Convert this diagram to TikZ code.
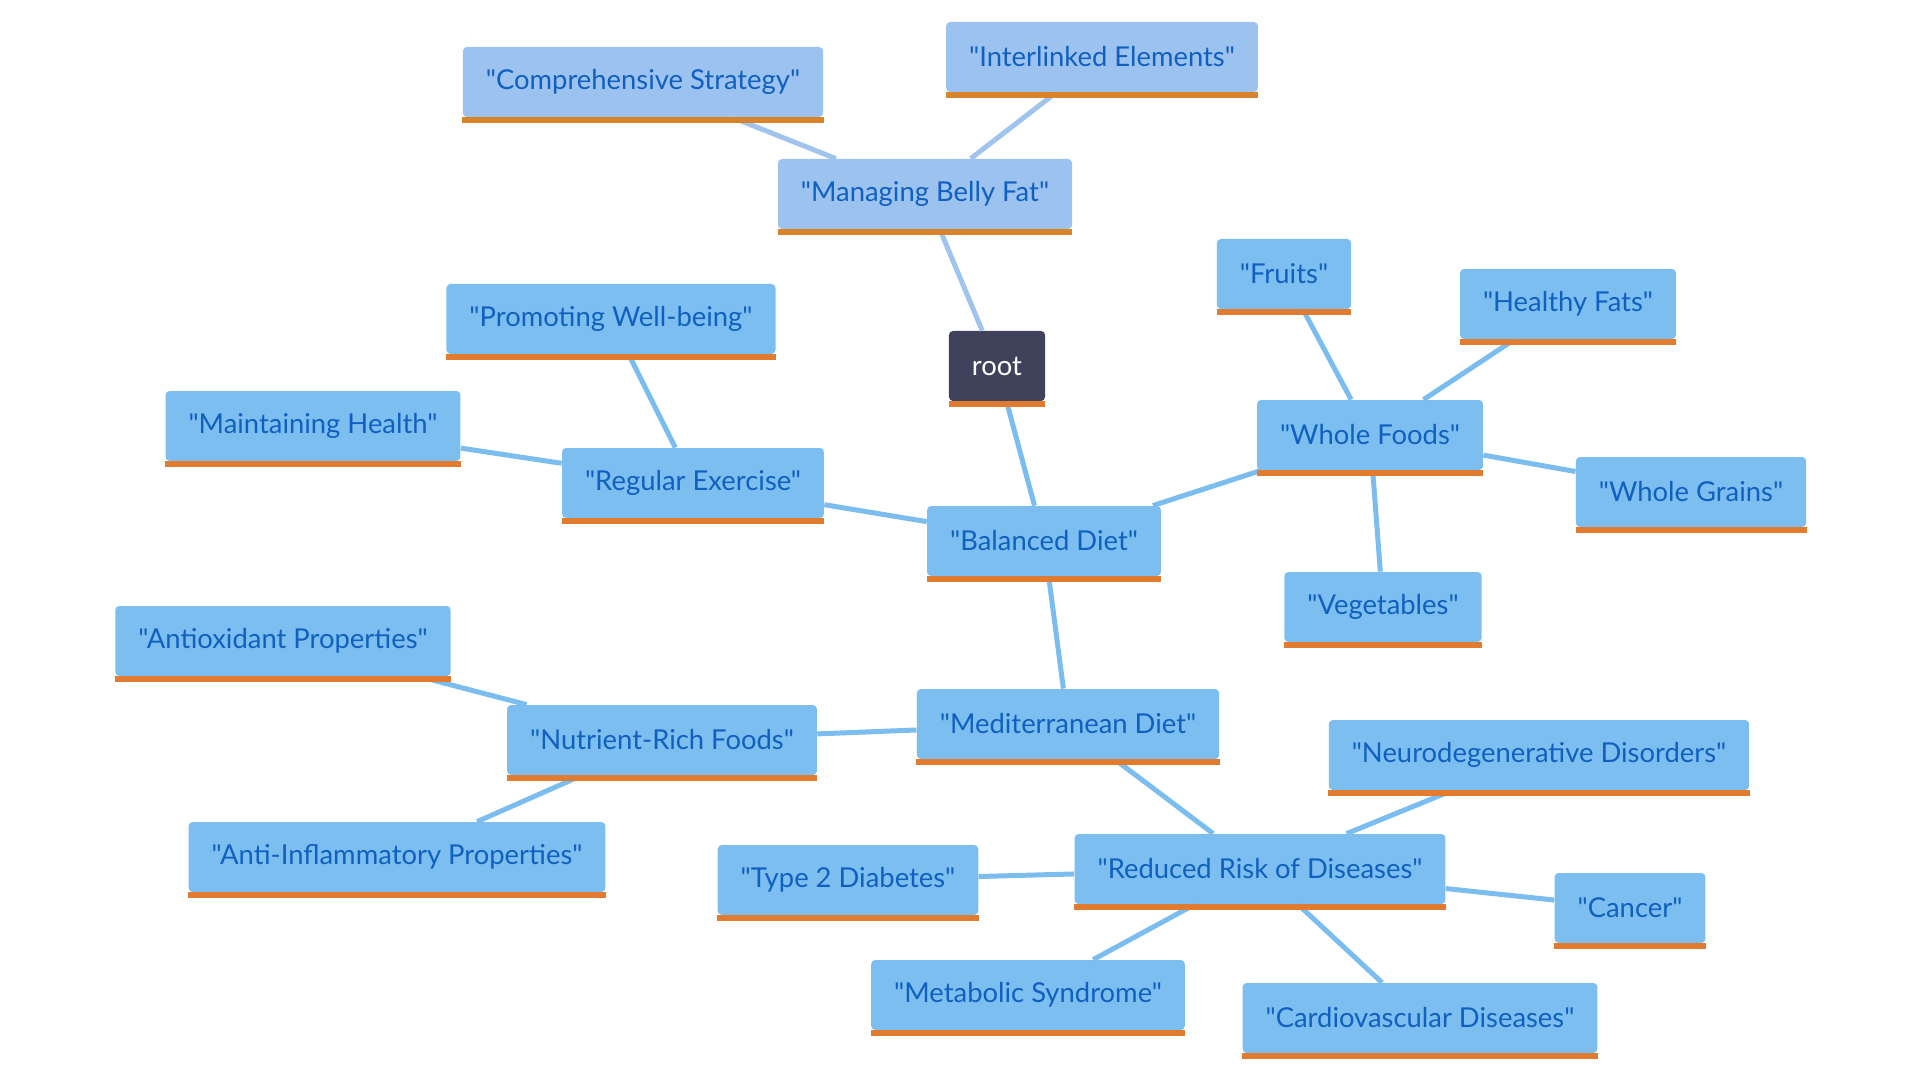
\documentclass[tikz,border=0pt]{standalone}
\usepackage{fontspec}
\setmainfont{Lato}[Ligatures=TeXOff]
\definecolor{boxblue}{HTML}{7CBEF0}
\definecolor{boxlight}{HTML}{9CC2F0}
\definecolor{textblue}{HTML}{1060C0}
\definecolor{barorange}{HTML}{E07B30}
\definecolor{barochre}{HTML}{D9842B}
\definecolor{rootgray}{HTML}{3F425A}
\definecolor{linkblue}{HTML}{7BBDEE}
\definecolor{linklight}{HTML}{A0C4EE}
\begin{document}
\begin{tikzpicture}[x=0.5pt, y=-0.5pt,
  topic/.style={rectangle, rounded corners=2pt, fill=boxblue, text=textblue,
    minimum height=35pt, inner xsep=11.5pt, font=\fontsize{13.7}{15}\selectfont},
  lighttopic/.style={topic, fill=boxlight},
  link/.style={line width=2.5pt, draw=linkblue},
  lightlink/.style={link, draw=linklight}]
\useasboundingbox (0,0) rectangle (1920,1080);
% centre topic
\node [topic, fill=rootgray, text=white] (root) at (997,366) {root};
\node [topic] (bal) at (1044,541) {"Balanced Diet"};
% belly fat branch
\node [lighttopic] (mbf) at (925,194) {"Managing Belly Fat"};
\node [lighttopic] (cs) at (643,82) {"Comprehensive Strategy"};
\node [lighttopic] (ie) at (1102,57) {"Interlinked Elements"};
% exercise branch
\node [topic] (re) at (693,483) {"Regular Exercise"};
\node [topic] (pw) at (611,319) {"Promoting Well-being"};
\node [topic] (mh) at (313,426) {"Maintaining Health"};
% whole foods branch
\node [topic] (wf) at (1370,435) {"Whole Foods"};
\node [topic] (fr) at (1284,274) {"Fruits"};
\node [topic] (hf) at (1568,304) {"Healthy Fats"};
\node [topic] (wg) at (1691,492) {"Whole Grains"};
\node [topic] (veg) at (1383,607) {"Vegetables"};
% mediterranean branch
\node [topic] (med) at (1068,724) {"Mediterranean Diet"};
\node [topic] (nrf) at (662,740) {"Nutrient-Rich Foods"};
\node [topic] (ap) at (283,641) {"Antioxidant Properties"};
\node [topic] (aip) at (397,857) {"Anti-Inflammatory Properties"};
\node [topic] (rrd) at (1260,869) {"Reduced Risk of Diseases"};
\node [topic] (nd) at (1539,755) {"Neurodegenerative Disorders"};
\node [topic] (t2d) at (848,880) {"Type 2 Diabetes"};
\node [topic] (can) at (1630,908) {"Cancer"};
\node [topic] (ms) at (1028,995) {"Metabolic Syndrome"};
\node [topic] (cvd) at (1420,1018) {"Cardiovascular Diseases"};
% links
\draw [lightlink] (root) -- (mbf);
\draw [lightlink] (mbf) -- (cs);
\draw [lightlink] (mbf) -- (ie);
\draw [link] (root) -- (bal);
\draw [link] (bal) -- (re);
\draw [link] (re) -- (pw);
\draw [link] (re) -- (mh);
\draw [link] (bal) -- (wf);
\draw [link] (wf) -- (fr);
\draw [link] (wf) -- (hf);
\draw [link] (wf) -- (wg);
\draw [link] (wf) -- (veg);
\draw [link] (bal) -- (med);
\draw [link] (med) -- (nrf);
\draw [link] (nrf) -- (ap);
\draw [link] (nrf) -- (aip);
\draw [link] (med) -- (rrd);
\draw [link] (rrd) -- (nd);
\draw [link] (rrd) -- (t2d);
\draw [link] (rrd) -- (can);
\draw [link] (rrd) -- (ms);
\draw [link] (rrd) -- (cvd);
% orange bars under the topics
\foreach \n in {root, bal, re, pw, mh, wf, fr, hf, wg, veg, med, nrf, ap, aip, rrd, nd, t2d, can, ms, cvd}
  \fill [barorange] (\n.south west) rectangle ([yshift=-3pt]\n.south east);
\foreach \n in {mbf, cs, ie}
  \fill [barochre] (\n.south west) rectangle ([yshift=-3pt]\n.south east);
\end{tikzpicture}
\end{document}
